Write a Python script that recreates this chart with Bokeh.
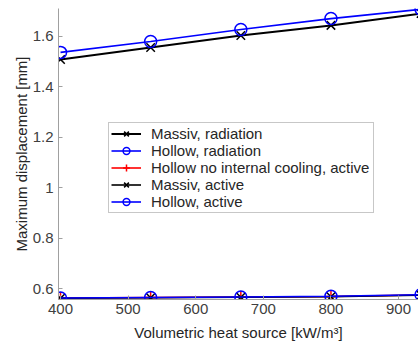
from bokeh.plotting import figure
from bokeh.models import Range1d, FixedTicker, NumeralTickFormatter
from bokeh.embed import file_html
from bokeh.resources import INLINE

heat_source = [400, 533.3, 666.7, 800, 933.3]
massiv_radiation = [1.509, 1.556, 1.604, 1.644, 1.691]
hollow_radiation = [1.537, 1.580, 1.628, 1.671, 1.708]
hollow_no_cooling_active = [0.563, 0.565, 0.567, 0.569, 0.575]
massiv_active = [0.562, 0.564, 0.566, 0.568, 0.574]
hollow_active = [0.563, 0.565, 0.567, 0.570, 0.576]

x_ticks = [400, 500, 600, 700, 800, 900]
y_ticks = [0.6, 0.8, 1.0, 1.2, 1.4, 1.6]

FONT = "Liberation Sans"

p = figure(width=418, height=344, output_backend="svg", toolbar_location=None,
           x_range=Range1d(397, 929.5), y_range=Range1d(0.557, 1.711),
           min_border_left=58, min_border_right=0, min_border_top=8,
           min_border_bottom=45)
p.outline_line_color = None
p.grid.visible = False
p.background_fill_color = "white"
p.border_fill_color = "white"

series = [
    (massiv_radiation, "black", "x", "Massiv, radiation", 2.0),
    (hollow_radiation, "#0000ff", "circle", "Hollow, radiation", 1.6),
    (hollow_no_cooling_active, "#ff0000", "cross", "Hollow no internal cooling, active", 1.6),
    (massiv_active, "black", "x", "Massiv, active", 1.6),
    (hollow_active, "#0000ff", "circle", "Hollow, active", 1.6),
]
for ys, col, mk, lab, lw in series:
    p.line(heat_source, ys, line_color=col, line_width=lw, legend_label=lab)
    p.scatter(heat_source, ys, marker=mk, size=12, line_color=col,
              fill_color=None, line_width=1.5, legend_label=lab)

p.xaxis.ticker = FixedTicker(ticks=x_ticks)
p.yaxis.ticker = FixedTicker(ticks=y_ticks)
p.yaxis.formatter = NumeralTickFormatter(format="0.[0]")

for ax in (p.xaxis, p.yaxis):
    ax.axis_line_color = "#a0a0a0"
    ax.major_tick_line_color = "#a0a0a0"
    ax.major_tick_in = 4
    ax.major_tick_out = 0
    ax.minor_tick_line_color = None
    ax.major_label_text_font = FONT
    ax.major_label_text_font_size = "15px"
    ax.major_label_text_color = "#404040"
    ax.axis_label_text_font = FONT
    ax.axis_label_text_font_size = "15px"
    ax.axis_label_text_font_style = "normal"
    ax.axis_label_text_color = "#262626"

p.xaxis.axis_label = "Volumetric heat source [kW/m³]"
p.yaxis.axis_label = "Maximum displacement [mm]"
p.xaxis.major_label_standoff = 4
p.xaxis.axis_label_standoff = 7
p.yaxis.major_label_standoff = 5
p.yaxis.axis_label_standoff = 0

lg = p.legend[0]
lg.location = (50, 86)
lg.label_text_font = FONT
lg.label_text_font_size = "15px"
lg.label_text_color = "#262626"
lg.label_height = 17
lg.label_standoff = 10
lg.label_width = 220
lg.glyph_width = 30
lg.glyph_height = 17
lg.spacing = 0
lg.padding = 2
lg.margin = 0
lg.border_line_color = "#909090"
lg.border_line_width = 1
lg.background_fill_alpha = 1.0

open("out.html", "w").write(file_html(p, INLINE))
